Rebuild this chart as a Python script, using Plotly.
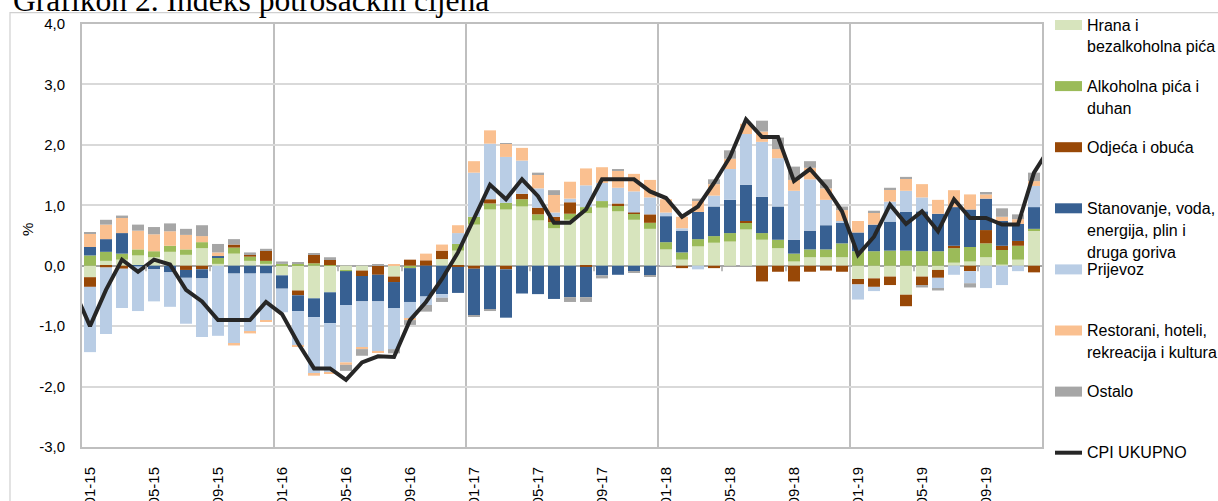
import plotly.graph_objects as go

# ---------------- data ----------------
years = ["15", "16", "17", "18", "19"]
months = [f"{m:02d}-{y}" for y in years for m in range(1, 13)]
line_months = ["12-14"] + months + ["01-20"]   # line visibly runs past both plot edges
tick_labels = ["01-15", "05-15", "09-15", "01-16", "05-16", "09-16", "01-17", "05-17",
               "09-17", "01-18", "05-18", "09-18", "01-19", "05-19", "09-19"]
y_ticks = [-3, -2, -1, 0, 1, 2, 3, 4]
y_tick_text = ["-3,0", "-2,0", "-1,0", "0,0", "1,0", "2,0", "3,0", "4,0"]

hrana = [-0.19, 0.08, 0.10, 0.17, 0.14, 0.23, 0.18, 0.29, 0.03, 0.20, 0.08, 0.03,
         -0.16, -0.41, -0.54, -0.44, -0.08, -0.08, 0.00, -0.18, -0.02, 0.00, 0.11, 0.25,
         0.68, 0.93, 0.93, 0.98, 0.75, 0.62, 0.76, 0.87, 0.96, 0.90, 0.76, 0.61,
         0.27, 0.10, 0.32, 0.38, 0.40, 0.60, 0.43, 0.29, 0.07, 0.14, 0.14, 0.14,
         -0.22, -0.21, -0.18, -0.48, -0.18, -0.07, 0.05, 0.07, 0.14, 0.02, 0.10, 0.59]
alkohol = [0.17, 0.15, 0.10, 0.10, 0.10, 0.10, 0.09, 0.10, 0.11, 0.10, 0.07, 0.05,
           0.03, 0.03, 0.04, 0.01, -0.01, 0.00, 0.00, 0.00, -0.02, 0.00, 0.00, 0.11,
           0.13, 0.10, 0.11, 0.12, 0.10, 0.10, 0.10, 0.10, 0.11, 0.10, 0.10, 0.10,
           0.12, 0.12, 0.12, 0.11, 0.14, 0.11, 0.11, 0.14, 0.13, 0.13, 0.13, 0.23,
           0.24, 0.24, 0.25, 0.25, 0.24, 0.24, 0.24, 0.24, 0.23, 0.24, 0.23, 0.02]
odjeca = [-0.16, -0.03, -0.05, 0.00, 0.00, 0.00, -0.07, -0.06, 0.00, 0.05, 0.04, 0.17,
          0.00, -0.08, 0.14, 0.10, 0.00, -0.09, -0.15, -0.09, 0.10, 0.09, 0.14, -0.02,
          -0.05, 0.07, -0.06, 0.09, 0.11, 0.09, 0.19, -0.02, 0.00, 0.03, 0.02, 0.14,
          0.00, -0.04, 0.00, -0.04, 0.00, 0.03, -0.26, -0.10, -0.26, -0.10, -0.08, -0.10,
          -0.09, -0.14, -0.14, -0.19, -0.14, -0.13, 0.04, -0.09, 0.22, 0.07, 0.08, -0.11]
stanovanje = [0.14, 0.21, 0.34, -0.01, -0.06, -0.11, -0.13, -0.15, 0.02, -0.13, -0.13, -0.13,
              -0.22, -0.26, -0.31, -0.51, -0.56, -0.42, -0.44, -0.43, -0.56, -0.51, -0.47, -0.43,
              -0.77, -0.73, -0.80, -0.46, -0.47, -0.55, -0.52, -0.50, -0.16, -0.15, -0.10, -0.16,
              0.43, 0.36, 0.45, 0.49, 0.55, 0.60, 0.60, 0.55, 0.23, 0.31, 0.40, 0.35,
              0.31, 0.44, 0.48, 0.64, 0.66, 0.62, 0.64, 0.62, 0.52, 0.41, 0.28, 0.36]
prijevoz = [-1.08, -1.10, -0.65, -0.74, -0.53, -0.57, -0.76, -0.97, -1.16, -1.16, -0.96, -0.77,
            -0.39, -0.57, -0.94, -0.81, -0.95, -0.77, -0.83, -0.68, -0.28, -0.14, -0.06, 0.18,
            0.73, 0.92, 0.76, 0.55, 0.32, 0.07, 0.06, 0.36, 0.30, 0.26, 0.35, 0.28,
            0.06, 0.04, -0.06, 0.18, 0.51, 0.84, 0.91, 0.80, 0.81, 0.85, 0.42, 0.02,
            -0.25, -0.07, 0.33, 0.35, 0.23, -0.18, -0.15, -0.20, -0.37, -0.32, -0.09, 0.35]
restorani = [0.22, 0.24, 0.26, 0.31, 0.28, 0.24, 0.24, 0.10, 0.06, -0.03, -0.03, -0.02,
             0.00, -0.02, -0.03, -0.03, -0.04, -0.02, -0.02, 0.02, -0.02, 0.11, 0.10, 0.13,
             0.19, 0.22, 0.22, 0.21, 0.23, 0.29, 0.28, 0.28, 0.26, 0.28, 0.29, 0.29,
             0.22, 0.19, 0.18, 0.19, 0.17, 0.17, 0.17, 0.15, 0.18, 0.19, 0.19, 0.18,
             0.19, 0.20, 0.20, 0.21, 0.22, 0.23, 0.28, 0.25, 0.07, 0.07, 0.08, 0.08]
ostalo = [0.02, 0.08, 0.03, 0.10, 0.12, 0.13, 0.10, 0.18, 0.14, 0.09, 0.03, 0.03,
          0.04, 0.03, 0.02, 0.03, -0.10, -0.11, 0.02, -0.07, -0.08, -0.11, -0.07, 0.00,
          -0.02, -0.02, 0.01, 0.00, 0.03, 0.08, -0.08, -0.08, -0.05, 0.02, -0.02, -0.02,
          0.00, 0.00, 0.04, 0.08, 0.14, 0.00, 0.18, 0.19, 0.22, 0.11, 0.15, 0.06,
          0.00, 0.03, 0.03, 0.02, -0.04, -0.03, 0.00, -0.07, 0.04, 0.14, 0.08, 0.14]
cpi = [-0.40,
       -1.00, -0.40, 0.10, -0.10, 0.10, 0.02, -0.40, -0.59, -0.90, -0.90, -0.90, -0.60,
       -0.80, -1.28, -1.70, -1.70, -1.89, -1.60, -1.50, -1.51, -0.90, -0.60, -0.22, 0.22,
       0.79, 1.34, 1.10, 1.43, 1.15, 0.71, 0.71, 0.93, 1.43, 1.43, 1.43, 1.23,
       1.12, 0.81, 0.98, 1.37, 1.80, 2.42, 2.13, 2.13, 1.40, 1.60, 1.30, 0.90,
       0.18, 0.48, 1.01, 0.69, 0.90, 0.57, 1.10, 0.79, 0.79, 0.68, 0.68, 1.54,
       1.96]

series = [
    ("Hrana i bezalkoholna pića", ["Hrana i", "bezalkoholna pića"], hrana, "#D7E4BD"),
    ("Alkoholna pića i duhan", ["Alkoholna pića i", "duhan"], alkohol, "#9BBB59"),
    ("Odjeća i obuća", ["Odjeća i obuća"], odjeca, "#984807"),
    ("Stanovanje, voda, energija, plin i druga goriva",
     ["Stanovanje, voda,", "energija, plin i", "druga goriva"], stanovanje, "#376092"),
    ("Prijevoz", ["Prijevoz"], prijevoz, "#B9CDE5"),
    ("Restorani, hoteli, rekreacija i kultura",
     ["Restorani, hoteli,", "rekreacija i kultura"], restorani, "#FAC090"),
    ("Ostalo", ["Ostalo"], ostalo, "#A6A6A6"),
]
cpi_name = "CPI UKUPNO"
cpi_color = "#262626"

# ---------------- layout geometry (pixels) ----------------
W, H = 1218, 501
L, R, T, B = 82, 176, 24, 54
PW, PH = W - L - R, H - T - B


def px(x):
    return (x - L) / PW


def py(y):
    return (H - B - y) / PH


fig = go.Figure()
for name, _, vals, col in series:
    fig.add_trace(go.Bar(x=months, y=vals, name=name, marker=dict(color=col, line=dict(width=0)),
                         showlegend=False))
fig.add_trace(go.Scatter(x=line_months, y=cpi, name=cpi_name, mode="lines",
                         line=dict(color=cpi_color, width=4), showlegend=False))

shapes = []
# vertical year separators
for k in range(1, len(years)):
    xb = 12 * k + 0.5
    shapes.append(dict(type="line", xref="x", yref="y", x0=xb, x1=xb, y0=-3, y1=4,
                       line=dict(color="#BFBFBF", width=2), layer="below"))
# small tick marks on the zero line every 4 months
for k in range(1, 15):
    xb = 4 * k + 0.5
    if (4 * k) % 12 == 0:
        continue
    shapes.append(dict(type="line", xref="x", yref="y", x0=xb, x1=xb, y0=0, y1=-0.09,
                       line=dict(color="#A6A6A6", width=1.5), layer="above"))
# outer chart frame
shapes.append(dict(type="rect", xref="paper", yref="paper", x0=px(10), x1=px(1240),
                   y0=py(560), y1=py(12.7), line=dict(color="#D0D0D0", width=1.2),
                   fillcolor="rgba(0,0,0,0)", layer="below"))

annotations = []
# manual legend
leg_x_sw0, leg_x_sw1, leg_x_txt = 1055, 1082, 1086
leg_y0, leg_step, line_h = 25, 61.1, 22
entries = [(lines, col, "bar") for _, lines, _, col in series] + [([cpi_name], cpi_color, "line")]
for k, (lines, col, kind) in enumerate(entries):
    yc = leg_y0 + leg_step * k
    if kind == "bar":
        shapes.append(dict(type="rect", xref="paper", yref="paper", x0=px(leg_x_sw0), x1=px(leg_x_sw1),
                           y0=py(yc + 5), y1=py(yc - 5), fillcolor=col, line=dict(width=0)))
    else:
        shapes.append(dict(type="line", xref="paper", yref="paper", x0=px(leg_x_sw0), x1=px(leg_x_sw1),
                           y0=py(yc), y1=py(yc), line=dict(color=col, width=4)))
    for j, t in enumerate(lines):
        annotations.append(dict(text=t, xref="paper", yref="paper", x=px(leg_x_txt),
                                y=py(yc + j * line_h), xanchor="left", yanchor="middle",
                                showarrow=False, borderpad=0,
                                font=dict(family="Liberation Sans", size=16, color="#000000")))
# y-axis unit label
annotations.append(dict(text="%", xref="paper", yref="paper", x=px(27), y=py(230), textangle=-90,
                        xanchor="center", yanchor="middle", showarrow=False,
                        font=dict(family="Liberation Sans", size=15, color="#000000")))
# chart title (partly cut off at the top, as in the original)
annotations.append(dict(text="Grafikon 2. Indeks potrošačkih cijena", xref="paper", yref="paper",
                        x=px(12), y=py(19), xanchor="left", yanchor="bottom", showarrow=False,
                        borderpad=0, font=dict(family="Liberation Serif", size=31.6, color="#000000")))

fig.update_layout(
    barmode="relative", bargap=0.25,
    width=W, height=H, autosize=False,
    margin=dict(l=L, r=R, t=T, b=B, pad=0, autoexpand=False),
    plot_bgcolor="white", paper_bgcolor="white",
    showlegend=False,
    font=dict(family="Liberation Sans", size=15, color="#000000"),
    shapes=shapes, annotations=annotations,
)
fig.update_xaxes(type="category", categoryorder="array", categoryarray=line_months,
                 range=[0.5, 60.5], tickmode="array", tickvals=tick_labels, ticktext=tick_labels,
                 tickangle=-90, showgrid=False, zeroline=False, showline=True, mirror=True,
                 linecolor="#BFBFBF", linewidth=2, ticks="", ticklabelstandoff=12,
                 tickfont=dict(family="Liberation Sans", size=15, color="#000000"), automargin=False)
fig.update_yaxes(range=[-3, 4], tickmode="array", tickvals=y_ticks, ticktext=y_tick_text,
                 showgrid=True, gridcolor="#D9D9D9", gridwidth=1.5,
                 zeroline=True, zerolinecolor="#A6A6A6", zerolinewidth=1.5,
                 showline=True, mirror=True, linecolor="#BFBFBF", linewidth=2,
                 ticks="", ticklabelstandoff=12,
                 tickfont=dict(family="Liberation Sans", size=15, color="#000000"), automargin=False)

fig.write_html("out.html", config={"displayModeBar": False},
               post_script="document.body.style.margin='0';")
